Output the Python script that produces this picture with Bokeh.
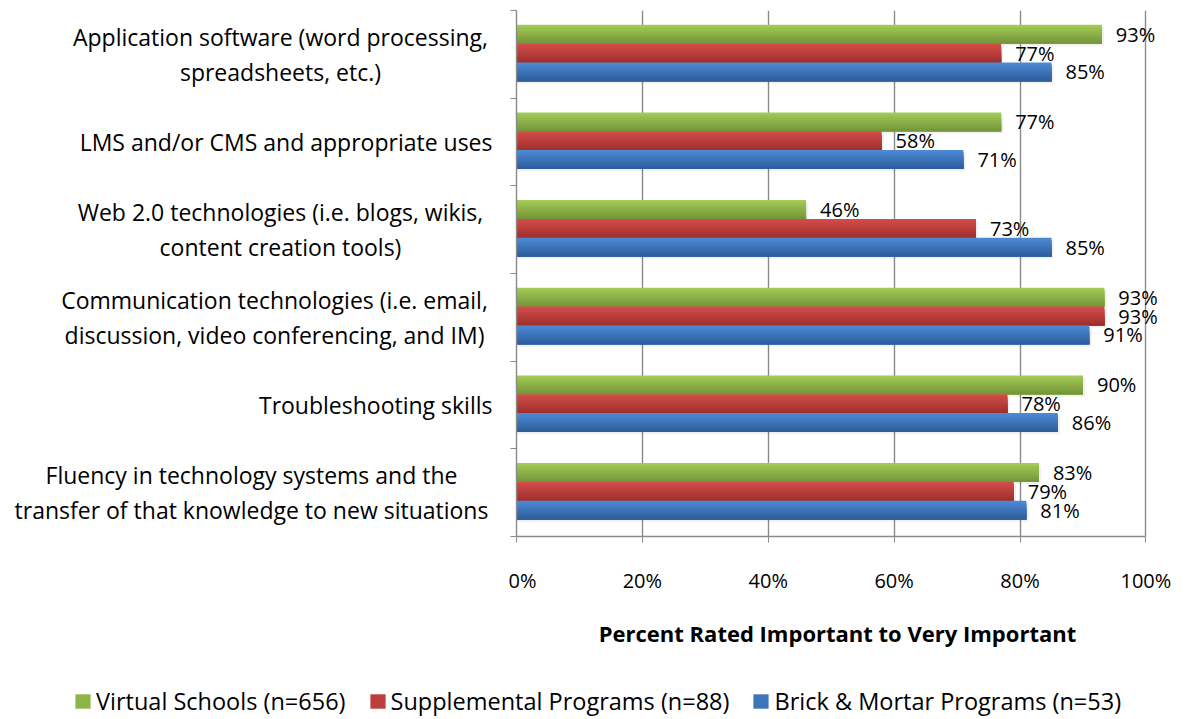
from bokeh.plotting import figure
from bokeh.models import Range1d, FixedTicker, Legend, LegendItem, ColumnDataSource
from bokeh.layouts import row, column
from bokeh.core.properties import value
from bokeh.embed import file_html
from bokeh.resources import INLINE

# ---------------- data ----------------
categories = [
    "Application software (word processing,\nspreadsheets, etc.)",
    "LMS and/or CMS and appropriate uses",
    "Web 2.0 technologies (i.e. blogs, wikis,\ncontent creation tools)",
    "Communication technologies (i.e. email,\ndiscussion, video conferencing, and IM)",
    "Troubleshooting skills",
    "Fluency in technology systems and the\ntransfer of that knowledge to new situations",
]
series_names = ["Virtual Schools (n=656)", "Supplemental Programs (n=88)",
                "Brick & Mortar Programs (n=53)"]
virtual = [93, 77, 46, 93.4, 90, 83]
supplemental = [77, 58, 73, 93.4, 78, 79]
brick = [85, 71, 85, 91, 86, 81]
series_values = [virtual, supplemental, brick]
x_ticks = [0, 20, 40, 60, 80, 100]
axis_title = "Percent Rated Important to Very Important"

# ---------------- style ----------------
FONT = "Open Sans"
top_cols = ["#a2ca55", "#d24c49", "#4b89d3"]
bot_cols = ["#76963a", "#a0302e", "#2e5e9c"]
N_STRIPS = 10
BAR_H = 0.215
GRID = "#8a8a8a"
MAIN_H = 660
LABEL_W = 508
X_END = 102
# horizontal anchor (px) of each category label inside the label panel
label_anchor = [280, 492, 280, 274, 492, 251]

def hex2rgb(h):
    h = h.lstrip("#")
    return tuple(int(h[i:i + 2], 16) for i in (0, 2, 4))

def mix(c1, c2, t):
    a, b = hex2rgb(c1), hex2rgb(c2)
    return "#%02x%02x%02x" % tuple(round(a[i] + (b[i] - a[i]) * t) for i in range(3))

n_cat = len(categories)
y_rng = Range1d(n_cat, 0)

# ---------------- main chart ----------------
p = figure(width=1186 - LABEL_W, height=MAIN_H, output_backend="svg",
           toolbar_location=None, x_range=Range1d(0, X_END), y_range=y_rng,
           min_border_left=8, min_border_right=28, min_border_top=10,
           min_border_bottom=124)
p.outline_line_color = None
p.background_fill_color = "white"
p.border_fill_color = "white"

p.xgrid.ticker = FixedTicker(ticks=x_ticks)
p.xgrid.grid_line_color = GRID
p.xgrid.grid_line_width = 1.4
p.ygrid.grid_line_color = None

xa = p.xaxis[0]
xa.bounds = (0, 100)
xa.ticker = FixedTicker(ticks=x_ticks)
xa.major_label_overrides = {t: f"{t}%" for t in x_ticks}
xa.axis_line_color = GRID
xa.axis_line_width = 1.4
xa.major_tick_line_color = GRID
xa.major_tick_out = 6
xa.major_tick_in = 0
xa.minor_tick_line_color = None
xa.major_label_standoff = 24
xa.major_label_text_font = FONT
xa.major_label_text_font_size = "20px"
xa.major_label_text_color = "black"
xa.axis_label = axis_title
xa.axis_label_text_font = FONT
xa.axis_label_text_font_style = "bold"
xa.axis_label_text_font_size = "22px"
xa.axis_label_standoff = 21
xa.axis_label_text_color = "black"

ya = p.yaxis[0]
ya.ticker = FixedTicker(ticks=list(range(n_cat + 1)))
ya.major_label_overrides = {i: "" for i in range(n_cat + 1)}
ya.major_label_standoff = 0
ya.axis_line_color = GRID
ya.axis_line_width = 1.4
ya.major_tick_line_color = GRID
ya.major_tick_out = 6
ya.major_tick_in = 0
ya.minor_tick_line_color = None

offsets = [-BAR_H, 0.0, BAR_H]
for s, vals in enumerate(series_values):
    centers = [i + 0.5 + offsets[s] - 0.015 for i in range(n_cat)]
    p.hbar(y=[c + 0.025 for c in centers], left=0, right=[v + 0.35 for v in vals],
           height=BAR_H, fill_color="#000000", fill_alpha=0.06, line_color=None)
    for k in range(N_STRIPS):
        t = k / (N_STRIPS - 1)
        col = mix(top_cols[s], bot_cols[s], t)
        frac = k / N_STRIPS
        ys = [c - BAR_H / 2 + BAR_H * frac + BAR_H * (1 - frac) / 2 for c in centers]
        p.hbar(y=ys, left=0, right=vals, height=BAR_H * (1 - frac),
               fill_color=col, line_color=None)
    src = ColumnDataSource(dict(x=vals, y=centers, t=[f"{v:.0f}%" for v in vals]))
    p.text(x="x", y="y", text="t", source=src, x_offset=14,
           text_align="left", text_baseline="middle",
           text_font=value(FONT), text_font_size="20px", text_color="black")

# ---------------- category label panel ----------------
lp = figure(width=LABEL_W, height=MAIN_H, output_backend="svg",
            toolbar_location=None, x_range=Range1d(0, LABEL_W), y_range=y_rng,
            min_border_left=0, min_border_right=0, min_border_top=10,
            min_border_bottom=124, x_axis_location=None, y_axis_location=None)
lp.outline_line_color = None
lp.xgrid.visible = False
lp.ygrid.visible = False
lab_src = ColumnDataSource(dict(
    x=label_anchor, y=[i + 0.5 for i in range(n_cat)], t=categories,
    a=["center" if "\n" in c else "right" for c in categories]))
lp.text(x="x", y="y", text="t", source=lab_src, text_align="a",
        text_baseline="middle", text_font=value(FONT), text_font_size="23px",
        text_color="black", text_line_height=1.08)

# ---------------- legend panel ----------------
lg = figure(width=1186, height=719 - MAIN_H, output_backend="svg",
            toolbar_location=None, x_range=Range1d(0, 100),
            y_range=Range1d(0, n_cat), min_border=0,
            x_axis_location=None, y_axis_location=None)
lg.outline_line_color = None
lg.xgrid.visible = False
lg.ygrid.visible = False
items = []
for s in range(3):
    # hidden renderer: only supplies the legend swatch
    r = lg.hbar(y=list(range(n_cat)), left=0, right=series_values[s], height=0.5,
                fill_color=mix(top_cols[s], bot_cols[s], 0.45), line_color=None,
                visible=False)
    items.append(LegendItem(label=series_names[s], renderers=[r]))
legend = Legend(items=items, orientation="horizontal", location=(73, 2),
                glyph_width=19, glyph_height=18, label_standoff=4, spacing=22,
                padding=0, margin=0, border_line_color=None, click_policy="none",
                background_fill_alpha=0, label_text_font=FONT,
                label_text_font_size="23.5px", label_text_color="black")
lg.add_layout(legend, "center")

layout = column(row(lp, p, spacing=0), lg, spacing=0)
open("out.html", "w").write(file_html(layout, INLINE))
